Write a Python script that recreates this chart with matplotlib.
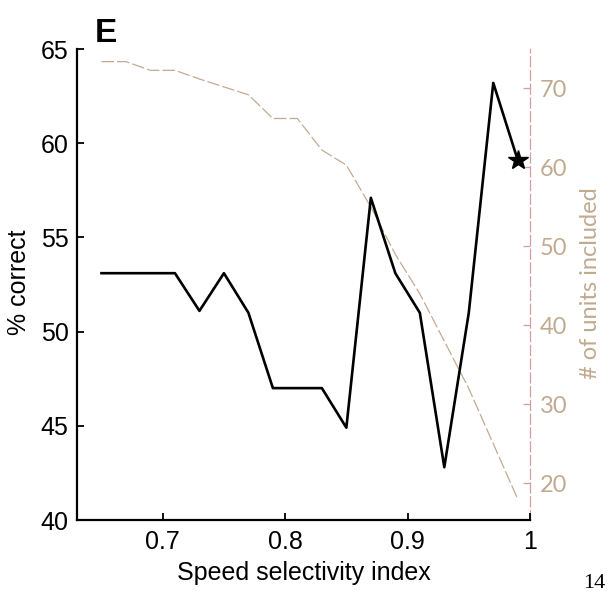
import matplotlib
matplotlib.use('Agg')
import matplotlib.pyplot as plt

# dados
ssi = [0.65, 0.67, 0.69, 0.71, 0.73, 0.75, 0.77, 0.79, 0.81,
       0.83, 0.85, 0.87, 0.89, 0.91, 0.93, 0.95, 0.97, 0.99]
pct_correct = [53.1, 53.1, 53.1, 53.1, 51.1, 53.1, 51.0, 47.0, 47.0,
               47.0, 44.9, 57.1, 53.1, 51.0, 42.8, 51.0, 63.2, 59.1]
n_units = [73.4, 73.4, 72.3, 72.3, 71.2, 70.2, 69.2, 66.2, 66.2,
           62.2, 60.3, 55.0, 49.0, 44.0, 38.0, 32.0, 25.0, 18.0]

x_ticks = [0.7, 0.8, 0.9, 1.0]
x_labels = ['0.7', '0.8', '0.9', '1']
y_ticks = [40, 45, 50, 55, 60, 65]
y2_ticks = [20, 30, 40, 50, 60, 70]

cor_tan = '#c1ab90'
cor_linha = '#c2ab92'
cor_rosa = '#d49ea6'
fonte_fina = ['Lato', 'DejaVu Sans']

plt.rcParams['font.family'] = ['Liberation Sans', 'DejaVu Sans']

fig = plt.figure(figsize=(6.09, 5.95), dpi=100)
ax = fig.add_axes([77/609, 1 - 520/595, 453/609, 471/595])
ax2 = ax.twinx()

# linha de unidades (eixo direito)
ax2.plot(ssi, n_units, color=cor_linha, lw=0.9, linestyle=(0, (10, 2.5)))
ax2.set_ylim(15.35, 75)
ax2.set_yticks(y2_ticks)
ax2.tick_params(axis='y', direction='in', length=5, width=0.9, color=cor_rosa,
                labelcolor=cor_tan, labelsize=17, pad=7)
for lbl in ax2.get_yticklabels():
    lbl.set_family(fonte_fina)
    lbl.set_fontweight('normal')
ax2.set_ylabel('# of units included', color=cor_tan, fontsize=17,
               family=fonte_fina, fontweight='normal', va='center')
ax2.yaxis.set_label_coords(1.1325, 0.503)
for lado in ['top', 'left', 'bottom']:
    ax2.spines[lado].set_visible(False)
ax2.spines['right'].set_color(cor_rosa)
ax2.spines['right'].set_linewidth(0.9)
ax2.spines['right'].set_linestyle((0, (8, 3)))

# % correto (eixo esquerdo)
ax.plot(ssi, pct_correct, color='black', lw=1.9, zorder=5)
ax.plot(ssi[-1], pct_correct[-1], marker='*', color='black', markersize=15, zorder=6)
ax.set_zorder(ax2.get_zorder() + 1)
ax.patch.set_visible(False)

ax.set_xlim(0.63, 1.0)
ax.set_ylim(40, 65)
ax.set_xticks(x_ticks)
ax.set_xticklabels(x_labels)
ax.set_yticks(y_ticks)
ax.tick_params(axis='both', direction='in', length=5, width=1.3, labelsize=18)
ax.tick_params(axis='x', pad=7)
ax.tick_params(axis='y', pad=6)
for lado in ['top', 'right']:
    ax.spines[lado].set_visible(False)
ax.spines['left'].set_linewidth(1.6)
ax.spines['bottom'].set_linewidth(1.6)

ax.set_xlabel('Speed selectivity index', fontsize=18, va='center')
ax.xaxis.set_label_coords(0.501, (520 - 573) / 471)
ax.set_ylabel('% correct', fontsize=18, va='center')
ax.yaxis.set_label_coords((19 - 77) / 453, (520 - 282) / 471)

fig.text(106/609, 1 - 34/595, 'E', fontsize=24, fontweight='bold', va='center', ha='center')
fig.text(583/609, 1 - 574/595, '14', fontsize=16, family=['Liberation Serif', 'DejaVu Serif'],
         va='top', ha='left')

fig.savefig('out.png', dpi=100)
